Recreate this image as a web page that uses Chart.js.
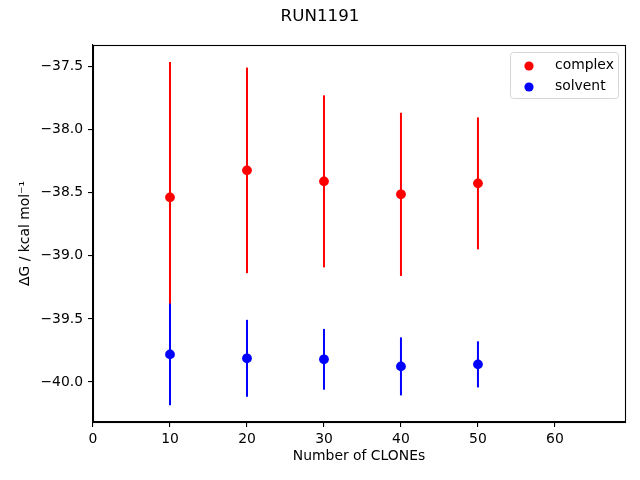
<!DOCTYPE html>
<html lang="en">
<head>
<meta charset="UTF-8" />
<title>RUN1191</title>
<style>
  body { margin: 0; background: #ffffff; }
  #wrap { width: 640px; height: 480px; }
</style>
</head>
<body>
<div id="wrap"><canvas id="chart" width="640" height="480"></canvas></div>
<script src="https://cdn.jsdelivr.net/npm/chart.js"></script>
<script>
// values
const clones = [10, 20, 30, 40, 50];
const complexDG = [-38.536, -38.322, -38.409, -38.512, -38.425];
const complexErr = [1.073, 0.815, 0.682, 0.647, 0.523];
const solventDG = [-39.781, -39.812, -39.820, -39.876, -39.860];
const solventErr = [0.403, 0.305, 0.241, 0.230, 0.183];
const xTicks = [0, 10, 20, 30, 40, 50, 60];
const yTicks = [-40.0, -39.5, -39.0, -38.5, -38.0, -37.5];

Chart.defaults.font.family = "'DejaVu Sans', sans-serif";
Chart.defaults.font.size = 13.9;
Chart.defaults.color = '#000000';

const toPoints = (ys) => clones.map((x, i) => ({ x: x, y: ys[i] }));

// error bars drawn through the scales, under each dataset's markers
const errorBars = {
  id: 'errorBars',
  beforeDatasetDraw(chart, args) {
    const ds = chart.data.datasets[args.index];
    const xs = chart.scales.x, ys = chart.scales.y;
    const ctx = chart.ctx;
    ctx.save();
    ctx.strokeStyle = ds.backgroundColor;
    ctx.lineWidth = 2;
    ds.data.forEach((p, i) => {
      const px = xs.getPixelForValue(p.x);
      ctx.beginPath();
      ctx.moveTo(px, ys.getPixelForValue(p.y + ds.err[i]));
      ctx.lineTo(px, ys.getPixelForValue(p.y - ds.err[i]));
      ctx.stroke();
    });
    ctx.restore();
  }
};

const frameTitleLegend = {
  id: 'frameTitleLegend',
  afterDraw(chart) {
    const ctx = chart.ctx;
    const a = chart.chartArea;
    ctx.save();
    // frame
    ctx.strokeStyle = '#000000';
    ctx.lineWidth = 1.1;
    ctx.strokeRect(Math.round(a.left) + 0.5, Math.round(a.top) + 0.5,
      Math.round(a.right - a.left), Math.round(a.bottom - a.top));
    // title
    ctx.fillStyle = '#000000';
    ctx.font = "16.7px 'DejaVu Sans', sans-serif";
    ctx.textAlign = 'center';
    ctx.textBaseline = 'middle';
    ctx.fillText('RUN1191', chart.width / 2, 17);
    // legend
    const bx = a.right - 115, by = a.top + 7, bw = 108, bh = 46;
    ctx.beginPath();
    ctx.roundRect(bx + 0.5, by + 0.5, bw, bh, 3);
    ctx.fillStyle = 'rgba(255,255,255,0.8)';
    ctx.fill();
    ctx.strokeStyle = '#d6d6d6';
    ctx.lineWidth = 1;
    ctx.stroke();
    ctx.font = "13.9px 'DejaVu Sans', sans-serif";
    ctx.textAlign = 'left';
    const order = [1, 0];
    order.forEach((di, row) => {
      const ds = chart.data.datasets[di];
      const cy = by + 14 + row * 21;
      ctx.beginPath();
      ctx.arc(bx + 19, cy, 4.6, 0, Math.PI * 2);
      ctx.fillStyle = ds.backgroundColor;
      ctx.fill();
      ctx.fillStyle = '#000000';
      ctx.fillText(ds.label, bx + 45, cy - 1);
    });
    ctx.restore();
  }
};

const tickStyle = {
  display: true,
  drawOnChartArea: false,
  drawTicks: true,
  tickLength: 5,
  color: '#000000',
  lineWidth: 1.1
};

new Chart(document.getElementById('chart'), {
  type: 'scatter',
  data: {
    datasets: [
      {
        label: 'solvent',
        data: toPoints(solventDG),
        err: solventErr,
        backgroundColor: '#0000ff',
        borderColor: '#0000ff',
        pointRadius: 4.9,
        pointBorderWidth: 0,
        order: 0
      },
      {
        label: 'complex',
        data: toPoints(complexDG),
        err: complexErr,
        backgroundColor: '#ff0000',
        borderColor: '#ff0000',
        pointRadius: 4.9,
        pointBorderWidth: 0,
        order: 1
      }
    ]
  },
  options: {
    responsive: false,
    animation: false,
    layout: { padding: { top: 45, right: 15, bottom: 0, left: 0 } },
    plugins: {
      legend: { display: false },
      tooltip: { enabled: false }
    },
    scales: {
      x: {
        type: 'linear',
        min: 0,
        max: 69.1,
        afterFit(scale) { scale.height = 58; },
        afterBuildTicks(scale) { scale.ticks = xTicks.map(v => ({ value: v })); },
        ticks: { padding: 4, maxRotation: 0, callback: (v) => String(v) },
        grid: tickStyle,
        border: { display: true, color: '#000000', width: 1.1 },
        title: { display: true, text: 'Number of CLONEs', padding: { top: 0, bottom: 15 } }
      },
      y: {
        type: 'linear',
        min: -40.317,
        max: -37.328,
        afterFit(scale) { scale.width = 93; },
        afterBuildTicks(scale) { scale.ticks = yTicks.map(v => ({ value: v })); },
        ticks: { padding: 5, callback: (v) => v.toFixed(1).replace('-', '\u2212') },
        grid: tickStyle,
        border: { display: true, color: '#000000', width: 1.1 },
        title: { display: true, text: '\u0394G / kcal mol\u207B\u00B9', padding: { top: 17, bottom: 0 } }
      }
    }
  },
  plugins: [errorBars, frameTitleLegend]
});
</script>
</body>
</html>
